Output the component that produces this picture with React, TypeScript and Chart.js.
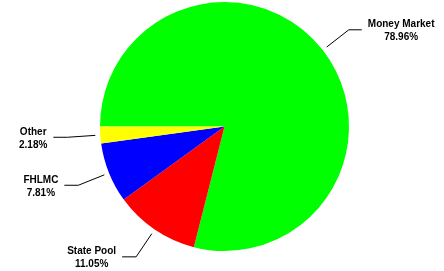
import React, { useEffect, useRef } from "react";
import { Chart, registerables } from "chart.js";

Chart.register(...registerables);

const categories = ["Money Market", "State Pool", "FHLMC", "Other"];
const values = [78.96, 11.05, 7.81, 2.18];
const colors = ["#00FF00", "#FF0000", "#0000FF", "#FFFF00"];

const outsideLabels = {
  id: "outsideLabels",
  afterDatasetsDraw(chart: any) {
    const ctx = chart.ctx;
    const meta = chart.getDatasetMeta(0);
    ctx.save();
    ctx.font = 'bold 10px "Liberation Sans", Arial, sans-serif';
    ctx.fillStyle = "#000";
    ctx.strokeStyle = "#000";
    ctx.lineWidth = 1;
    ctx.textBaseline = "middle";
    ctx.textAlign = "center";
    meta.data.forEach((arc: any, i: number) => {
      const { x, y, startAngle, endAngle, outerRadius } = arc.getProps(
        ["x", "y", "startAngle", "endAngle", "outerRadius"],
        true
      );
      const mid = (startAngle + endAngle) / 2;
      const cx = Math.cos(mid);
      const cy = Math.sin(mid);
      const p1x = x + (outerRadius + 5) * cx;
      const p1y = y + (outerRadius + 5) * cy;
      const p2x = x + (outerRadius + 33) * cx;
      const p2y = y + (outerRadius + 33) * cy;
      const right = cx >= 0;
      const p3x = p2x + (right ? 13 : -14);
      const p3y = p2y;
      ctx.beginPath();
      ctx.moveTo(p1x, p1y);
      ctx.lineTo(p2x, p2y);
      ctx.lineTo(p3x, p3y);
      ctx.stroke();
      const l1 = categories[i];
      const l2 = values[i].toFixed(2) + "%";
      const w = Math.max(ctx.measureText(l1).width, ctx.measureText(l2).width);
      const center = right ? p3x + 6 + w / 2 : p3x - 6 - w / 2;
      ctx.fillText(l1, center, p3y - 5.5);
      ctx.fillText(l2, center, p3y + 7.5);
    });
    ctx.restore();
  },
};

export default function App() {
  const ref = useRef<HTMLCanvasElement | null>(null);
  useEffect(() => {
    if (!ref.current) return;
    const chart = new Chart(ref.current, {
      type: "pie",
      data: {
        labels: categories,
        datasets: [
          {
            data: values,
            backgroundColor: colors,
            borderWidth: 0,
            hoverOffset: 0,
          },
        ],
      },
      options: {
        animation: false,
        responsive: false,
        rotation: -90,
        layout: { padding: { top: 2, bottom: 20, left: 5, right: 0 } },
        plugins: {
          legend: { display: false },
          tooltip: { enabled: false },
        },
      },
      plugins: [outsideLabels],
    });
    return () => chart.destroy();
  }, []);
  return (
    <div style={{ position: "fixed", left: 0, top: 0, width: 444, height: 271, background: "#fff" }}>
      <canvas ref={ref} width={444} height={271} style={{ display: "block" }} />
    </div>
  );
}
